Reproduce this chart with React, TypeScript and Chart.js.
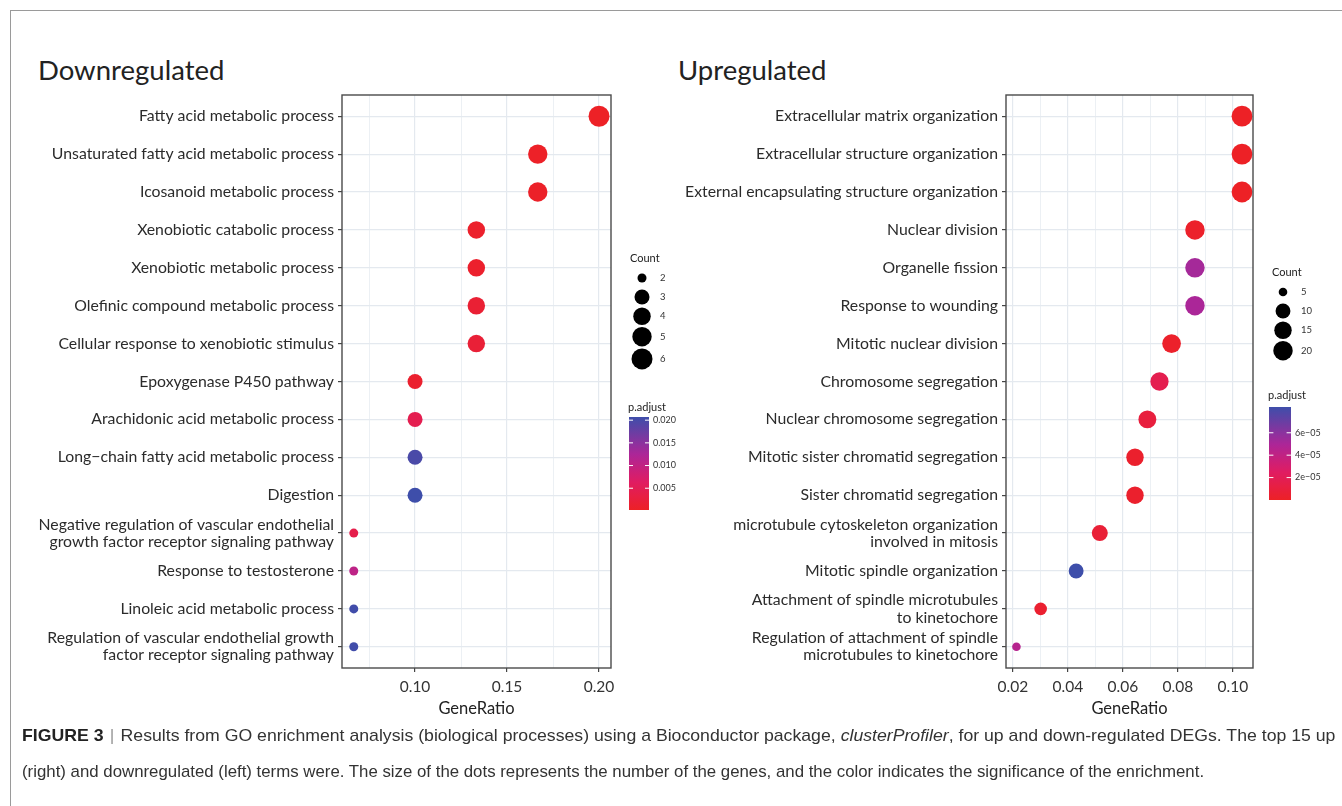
import React, { useEffect, useRef } from 'react';
import { Chart, registerables } from 'chart.js';

Chart.register(...registerables);

// ---------------- DATA ----------------
const DOWN_TERMS = [
  'Fatty acid metabolic process',
  'Unsaturated fatty acid metabolic process',
  'Icosanoid metabolic process',
  'Xenobiotic catabolic process',
  'Xenobiotic metabolic process',
  'Olefinic compound metabolic process',
  'Cellular response to xenobiotic stimulus',
  'Epoxygenase P450 pathway',
  'Arachidonic acid metabolic process',
  'Long\u2212chain fatty acid metabolic process',
  'Digestion',
  'Negative regulation of vascular endothelial\ngrowth factor receptor signaling pathway',
  'Response to testosterone',
  'Linoleic acid metabolic process',
  'Regulation of vascular endothelial growth\nfactor receptor signaling pathway',
];
const DOWN_RATIO = [0.2, 0.1667, 0.1667, 0.1333, 0.1333, 0.1333, 0.1333, 0.1, 0.1, 0.1, 0.1, 0.0667, 0.0667, 0.0667, 0.0667];
const DOWN_COUNT = [6, 5, 5, 4, 4, 4, 4, 3, 3, 3, 3, 2, 2, 2, 2];
const DOWN_PADJ = [0.0002, 0.0004, 0.0005, 0.0008, 0.0009, 0.0016, 0.0019, 0.001, 0.0045, 0.0198, 0.0207, 0.004, 0.0105, 0.0205, 0.0205];
const DOWN_X_TICKS = [0.075, 0.1, 0.125, 0.15, 0.175, 0.2];
const DOWN_X_LABELED = [0.1, 0.15, 0.2];
const DOWN_SIZE_BREAKS = [2, 3, 4, 5, 6];
const DOWN_COLOR_BREAKS = [0.005, 0.01, 0.015, 0.02];
const DOWN_COLOR_LABELS = ['0.005', '0.010', '0.015', '0.020'];

const UP_TERMS = [
  'Extracellular matrix organization',
  'Extracellular structure organization',
  'External encapsulating structure organization',
  'Nuclear division',
  'Organelle fission',
  'Response to wounding',
  'Mitotic nuclear division',
  'Chromosome segregation',
  'Nuclear chromosome segregation',
  'Mitotic sister chromatid segregation',
  'Sister chromatid segregation',
  'microtubule cytoskeleton organization\ninvolved in mitosis',
  'Mitotic spindle organization',
  'Attachment of spindle microtubules\nto kinetochore',
  'Regulation of attachment of spindle\nmicrotubules to kinetochore',
];
const UP_RATIO = [0.1033, 0.1033, 0.1033, 0.0862, 0.0862, 0.0862, 0.0777, 0.0733, 0.0689, 0.0644, 0.0644, 0.0516, 0.0430, 0.0301, 0.0213];
const UP_COUNT = [24, 24, 24, 20, 20, 20, 18, 17, 16, 15, 15, 12, 10, 7, 5];
const UP_PADJ = [0.000000001, 0.000000002, 0.000000004, 0.000002, 0.000052, 0.000050, 0.000002, 0.000017, 0.00001, 0.000003, 0.000003, 0.000007, 0.000083, 0.000004, 0.000045];
const UP_X_TICKS = [0.02, 0.03, 0.04, 0.05, 0.06, 0.07, 0.08, 0.09, 0.1];
const UP_X_LABELED = [0.02, 0.04, 0.06, 0.08, 0.1];
const UP_SIZE_BREAKS = [5, 10, 15, 20];
const UP_COLOR_BREAKS = [0.00002, 0.00004, 0.00006];
const UP_COLOR_LABELS = ['2e\u221205', '4e\u221205', '6e\u221205'];

// ---------------- STYLE ----------------
const FONT = 'Lato, "Open Sans", sans-serif';
const GRID = '#E4E9EF';
const COLOR_STOPS: [number, number, number, number][] = [
  [0, 237, 33, 38],
  [0.3, 224, 28, 98],
  [0.6, 172, 38, 152],
  [1, 62, 78, 170],
];

function colorAt(t: number): string {
  t = Math.max(0, Math.min(1, t));
  for (let i = 1; i < COLOR_STOPS.length; i++) {
    const a = COLOR_STOPS[i - 1];
    const b = COLOR_STOPS[i];
    if (t <= b[0]) {
      const f = (t - a[0]) / (b[0] - a[0]);
      const r = Math.round(a[1] + (b[1] - a[1]) * f);
      const g = Math.round(a[2] + (b[2] - a[2]) * f);
      const bl = Math.round(a[3] + (b[3] - a[3]) * f);
      return `rgb(${r},${g},${bl})`;
    }
  }
  const l = COLOR_STOPS[COLOR_STOPS.length - 1];
  return `rgb(${l[1]},${l[2]},${l[3]})`;
}

interface PanelSpec {
  terms: string[];
  ratio: number[];
  count: number[];
  padj: number[];
  xTicks: number[];
  xLabeled: number[];
  sizeBreaks: number[];
  colorBreaks: number[];
  colorLabels: string[];
  xMin: number;
  xMax: number;
  rMin: number;
  rMax: number;
  yAxisW: number;
  padRight: number;
  legend: any;
}

const CANVAS_W = 700;
const CANVAS_H = 720;

const panelPlugin = {
  id: 'panelDeco',
  afterDatasetsDraw(chart: any, _args: any, opts: any) {
    const { ctx, chartArea: a } = chart;
    ctx.save();
    ctx.strokeStyle = '#4a4a4a';
    ctx.lineWidth = 1.4;
    ctx.strokeRect(a.left, a.top, a.right - a.left, a.bottom - a.top);

    const L = opts.legend;
    const radius = opts.radius as (c: number) => number;
    const color = opts.color as (v: number) => string;
    // Count legend
    ctx.fillStyle = '#222';
    ctx.font = `11px ${FONT}`;
    ctx.textAlign = 'left';
    ctx.textBaseline = 'middle';
    ctx.fillText('Count', L.countX, L.countY);
    let y = L.dotY;
    let prevH = 0;
    opts.sizeBreaks.forEach((c: number, i: number) => {
      const r = radius(c);
      const h = Math.max(19, 2 * r + 2);
      if (i > 0) y += prevH / 2 + h / 2;
      prevH = h;
      ctx.beginPath();
      ctx.fillStyle = '#000';
      ctx.arc(L.dotX, y, r, 0, Math.PI * 2);
      ctx.fill();
      ctx.fillStyle = '#333';
      ctx.font = `9.5px ${FONT}`;
      ctx.fillText(String(c), L.labelX, y);
    });

    // p.adjust colorbar
    ctx.fillStyle = '#222';
    ctx.font = `11px ${FONT}`;
    ctx.fillText('p.adjust', L.padjX, L.padjY);
    const grad = ctx.createLinearGradient(0, L.barY + L.barH, 0, L.barY);
    for (let k = 0; k <= 20; k++) {
      const t = k / 20;
      grad.addColorStop(t, color(opts.pMin + t * (opts.pMax - opts.pMin)));
    }
    ctx.fillStyle = grad;
    ctx.fillRect(L.barX, L.barY, L.barW, L.barH);
    ctx.strokeStyle = '#fff';
    ctx.lineWidth = 1;
    ctx.font = `9px ${FONT}`;
    opts.colorBreaks.forEach((v: number, i: number) => {
      const ty = L.barY + L.barH - ((v - opts.pMin) / (opts.pMax - opts.pMin)) * L.barH;
      ctx.beginPath();
      ctx.moveTo(L.barX, ty);
      ctx.lineTo(L.barX + L.barW * 0.2, ty);
      ctx.moveTo(L.barX + L.barW * 0.8, ty);
      ctx.lineTo(L.barX + L.barW, ty);
      ctx.stroke();
      ctx.fillStyle = '#333';
      ctx.fillText(opts.colorLabels[i], L.barX + L.barW + 4, ty);
    });
    ctx.restore();
  },
};

function buildConfig(p: PanelSpec): any {
  const cMin = Math.min(...p.count);
  const cMax = Math.max(...p.count);
  const pMin = Math.min(...p.padj);
  const pMax = Math.max(...p.padj);
  const radius = (c: number) => p.rMin + (p.rMax - p.rMin) * Math.sqrt((c - cMin) / (cMax - cMin));
  const color = (v: number) => colorAt((v - pMin) / (pMax - pMin));
  const isMajor = (v: number) => p.xLabeled.some((l) => Math.abs(l - v) < 1e-9);
  const n = p.terms.length;
  return {
    type: 'scatter',
    data: {
      datasets: [
        {
          data: p.ratio.map((x, i) => ({ x, y: i })),
          pointRadius: p.count.map(radius),
          pointHoverRadius: p.count.map(radius),
          pointBackgroundColor: p.padj.map(color),
          pointBorderWidth: 0,
          clip: false,
        },
      ],
    },
    options: {
      animation: false,
      responsive: false,
      maintainAspectRatio: false,
      events: [],
      layout: { padding: { left: 0, top: 95, right: p.padRight, bottom: 0 } },
      plugins: {
        legend: { display: false },
        tooltip: { enabled: false },
        panelDeco: {
          legend: p.legend,
          radius,
          color,
          pMin,
          pMax,
          sizeBreaks: p.sizeBreaks,
          colorBreaks: p.colorBreaks,
          colorLabels: p.colorLabels,
        },
      },
      scales: {
        x: {
          type: 'linear',
          min: p.xMin,
          max: p.xMax,
          afterBuildTicks: (s: any) => {
            s.ticks = p.xTicks.map((v) => ({ value: v }));
          },
          afterFit: (s: any) => {
            s.height = 52;
          },
          ticks: {
            autoSkip: false,
            maxRotation: 0,
            padding: 6,
            color: '#333',
            font: { family: FONT, size: 15.5 },
            callback: (v: number) => (isMajor(v) ? v.toFixed(2) : ''),
          },
          grid: {
            color: GRID,
            lineWidth: (ctx: any) => (ctx.tick && isMajor(ctx.tick.value) ? 1.2 : 0.7),
            tickLength: 4,
            tickWidth: 1.2,
            tickColor: (ctx: any) => (ctx.tick && isMajor(ctx.tick.value) ? '#444' : 'rgba(0,0,0,0)'),
          },
          border: { display: false },
          title: {
            display: true,
            text: 'GeneRatio',
            color: '#222',
            font: { family: FONT, size: 16.5 },
            padding: { top: 0, bottom: 1 },
          },
        },
        y: {
          type: 'linear',
          reverse: true,
          min: -0.56,
          max: n - 1 + 0.56,
          afterBuildTicks: (s: any) => {
            s.ticks = p.terms.map((_, i) => ({ value: i }));
          },
          afterFit: (s: any) => {
            s.width = p.yAxisW;
          },
          ticks: {
            autoSkip: false,
            padding: 4,
            color: '#2b2b2b',
            font: { family: FONT, size: 15.8, lineHeight: 1.08 },
            callback: (v: number) => (p.terms[v] !== undefined ? p.terms[v].split('\n') : ''),
          },
          grid: {
            color: GRID,
            lineWidth: 1.2,
            tickLength: 4,
            tickWidth: 1.2,
            tickColor: '#444',
          },
          border: { display: false },
        },
      },
    },
    plugins: [panelPlugin],
  };
}

const LEFT: PanelSpec = {
  terms: DOWN_TERMS,
  ratio: DOWN_RATIO,
  count: DOWN_COUNT,
  padj: DOWN_PADJ,
  xTicks: DOWN_X_TICKS,
  xLabeled: DOWN_X_LABELED,
  sizeBreaks: DOWN_SIZE_BREAKS,
  colorBreaks: DOWN_COLOR_BREAKS,
  colorLabels: DOWN_COLOR_LABELS,
  xMin: 0.0603,
  xMax: 0.2065,
  rMin: 4.5,
  rMax: 10.5,
  yAxisW: 342,
  padRight: CANVAS_W - 611,
  legend: {
    countX: 630, countY: 258, dotX: 642, dotY: 278, labelX: 660,
    padjX: 628, padjY: 407, barX: 629, barY: 417, barW: 20, barH: 93,
  },
};

const RIGHT: PanelSpec = {
  terms: UP_TERMS,
  ratio: UP_RATIO,
  count: UP_COUNT,
  padj: UP_PADJ,
  xTicks: UP_X_TICKS,
  xLabeled: UP_X_LABELED,
  sizeBreaks: UP_SIZE_BREAKS,
  colorBreaks: UP_COLOR_BREAKS,
  colorLabels: UP_COLOR_LABELS,
  xMin: 0.0175,
  xMax: 0.1073,
  rMin: 4.3,
  rMax: 10.4,
  yAxisW: 335,
  padRight: CANVAS_W - 582,
  legend: {
    countX: 601, countY: 272, dotX: 612, dotY: 292, labelX: 630,
    padjX: 597, padjY: 395, barX: 598, barY: 407, barW: 22, barH: 93,
  },
};

function Panel({ spec, left }: { spec: PanelSpec; left: number }) {
  const ref = useRef<HTMLCanvasElement | null>(null);
  useEffect(() => {
    let chart: Chart | null = null;
    let cancelled = false;
    const make = () => {
      if (cancelled || !ref.current) return;
      chart = new Chart(ref.current, buildConfig(spec));
    };
    const fonts: any = (document as any).fonts;
    if (fonts && fonts.load) {
      Promise.all([fonts.load(`14px Lato`), fonts.load(`11px Lato`)]).then(make, make);
    } else make();
    return () => {
      cancelled = true;
      if (chart) chart.destroy();
    };
  }, [spec]);
  return (
    <canvas
      ref={ref}
      width={CANVAS_W}
      height={CANVAS_H}
      style={{ position: 'absolute', left, top: 0, width: CANVAS_W, height: CANVAS_H }}
    />
  );
}

export default function App() {
  const line1Ref = useRef<HTMLSpanElement | null>(null);
  const line2Ref = useRef<HTMLSpanElement | null>(null);
  useEffect(() => {
    const fit = (el: HTMLSpanElement | null, target: number) => {
      if (!el) return;
      const w = el.offsetWidth;
      if (w > 0) el.style.transform = `scaleX(${target / w})`;
    };
    const run = () => {
      fit(line1Ref.current, 1313);
      fit(line2Ref.current, 1182);
    };
    run();
    const t = setTimeout(run, 50);
    return () => clearTimeout(t);
  }, []);

  const titleStyle: React.CSSProperties = {
    position: 'absolute',
    top: 52,
    fontFamily: FONT,
    fontSize: 27.5,
    color: '#222',
    lineHeight: '36px',
    whiteSpace: 'nowrap',
  };

  const capLine: React.CSSProperties = {
    position: 'absolute',
    left: 22,
    display: 'inline-block',
    fontFamily: '"Liberation Sans", Arial, sans-serif',
    fontSize: 17,
    lineHeight: '36px',
    color: '#333',
    whiteSpace: 'nowrap',
    transformOrigin: 'left top',
  };

  return (
    <div
      style={{
        position: 'absolute',
        left: 0,
        top: 0,
        width: 1342,
        height: 806,
        background: '#fff',
        overflow: 'hidden',
      }}
    >
      <div
        style={{
          position: 'absolute',
          left: 10,
          top: 10,
          width: 1340,
          height: 800,
          borderTop: '1px solid #9a9a9a',
          borderLeft: '1px solid #9a9a9a',
        }}
      />
      <div style={{ ...titleStyle, left: 38 }}>Downregulated</div>
      <div style={{ ...titleStyle, left: 678 }}>Upregulated</div>
      <Panel spec={LEFT} left={0} />
      <Panel spec={RIGHT} left={671} />
      <span ref={line1Ref} style={{ ...capLine, top: 718 }}>
        <b style={{ color: '#222' }}>FIGURE 3</b>
        <span style={{ color: '#999', margin: '0 6px' }}>|</span>
        Results from GO enrichment analysis (biological processes) using a Bioconductor package,{' '}
        <i>clusterProfiler</i>, for up and down-regulated DEGs. The top 15 up
      </span>
      <span ref={line2Ref} style={{ ...capLine, top: 754 }}>
        (right) and downregulated (left) terms were. The size of the dots represents the number of the genes, and the
        color indicates the significance of the enrichment.
      </span>
    </div>
  );
}
